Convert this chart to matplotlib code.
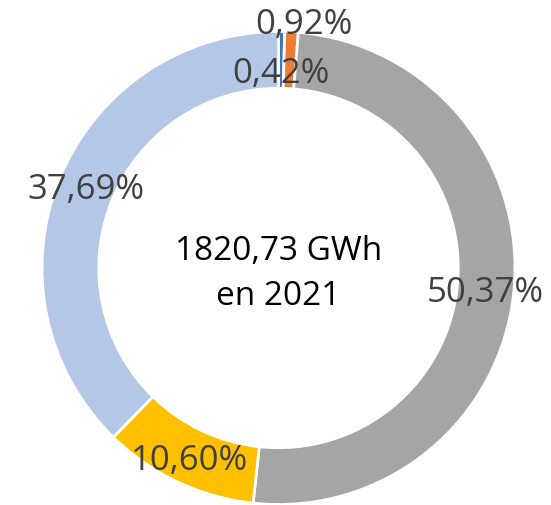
import numpy as np
import matplotlib
matplotlib.use("Agg")
import matplotlib.pyplot as plt

# Shares of production, clockwise from 12 o'clock
shares = [0.42, 0.92, 50.37, 10.60, 37.69]
labels = ["0,42%", "0,92%", "50,37%", "10,60%", "37,69%"]
colors = ["#4472C4", "#ED7D31", "#A5A5A5", "#FFC000", "#B4C7E7"]
# nudges (axes data units) for labels that sit off the ring middle
label_nudge = [(0.0, -0.06), (0.06, 0.15), (0.0, -0.02), (0.0, -0.02), (0.0, 0.0)]
center_text = "1820,73 GWh\nen 2021"

plt.rcParams["font.family"] = ["Open Sans", "DejaVu Sans"]

W, H = 551, 505
fig = plt.figure(figsize=(W / 100, H / 100), dpi=100)
cx, cy, R = 278.5, 268, 236.5
ax = fig.add_axes([(cx - R) / W, (H - cy - R) / H, 2 * R / W, 2 * R / H])

hole = 0.76
wedges, _ = ax.pie(shares, colors=colors, startangle=90, counterclock=False,
                   radius=1.0, wedgeprops=dict(width=1 - hole, edgecolor="white", linewidth=2))
ax.set_xlim(-1, 1)
ax.set_ylim(-1, 1)
ax.set_aspect("equal")
ax.axis("off")

r_lab = (1 + hole) / 2
for w, lab, (dx, dy) in zip(wedges, labels, label_nudge):
    ang = np.deg2rad((w.theta1 + w.theta2) / 2)
    x = r_lab * np.cos(ang) + dx
    y = r_lab * np.sin(ang) + dy
    ax.text(x, y, lab, ha="center", va="center", fontsize=25, color="#404040", clip_on=False)

ax.text(0, -0.025, center_text, ha="center", va="center", fontsize=24,
        color="black", linespacing=1.45)

fig.savefig("out.png", dpi=100)
